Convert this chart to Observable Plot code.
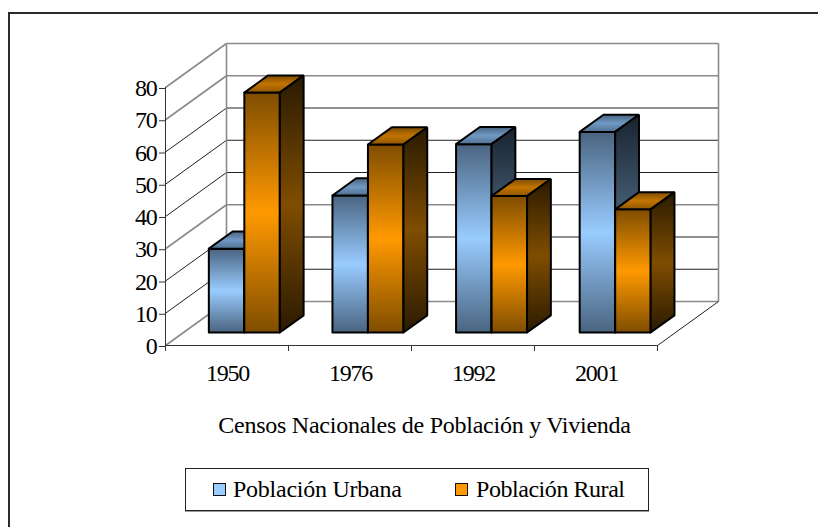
<!DOCTYPE html>
<html>
<head>
<meta charset="utf-8">
<script src="https://cdn.jsdelivr.net/npm/d3@7"></script>
<script src="https://cdn.jsdelivr.net/npm/@observablehq/plot@0.6"></script>
<style>
  html, body { margin: 0; padding: 0; background: #fff; overflow: hidden; }
  #page { position: relative; width: 818px; height: 527px; font-family: "Liberation Serif", serif; color: #000; }
  #page svg text { letter-spacing: -0.25px; }
  #page svg g[aria-label="y-axis tick label"] text, #page svg g[aria-label="x-axis tick label"] text { letter-spacing: -1.3px; }
  #frame { position: absolute; left: 8px; top: 12px; right: -4px; bottom: -4px; border: 2px solid #2b2b2b; box-sizing: border-box; }
  #legend { position: absolute; left: 185px; top: 468px; width: 464px; height: 43px; box-sizing: border-box; border: 1px solid #222; box-shadow: 0 1px 0 #999; background: #fff; }
  .sw { position: absolute; top: 14px; width: 13px; height: 13px; box-sizing: border-box; border: 1.5px solid #111; }
  .lb { position: absolute; top: 6px; font-size: 24px; line-height: 28px; white-space: nowrap; }
</style>
</head>
<body>
<div id="page">
  <div id="frame"></div>
  <div id="chart"></div>
  <div id="legend"></div>
</div>
<script>
const years = ["1950", "1976", "1992", "2001"];
const urbana = [26.0, 42.5, 58.4, 62.2];
const rural = [74.4, 58.3, 42.3, 38.2];
const seriesNames = ["Población Urbana", "Población Rural"];
const gridValues = [0, 10, 20, 30, 40, 50, 60, 70, 80];
const wideGrid = [0, 30, 70, 80];
const title = "Censos Nacionales de Población y Vivienda";

// oblique projection, expressed in scale units (category, percent)
const depthX = 0.496, depthY = 13.64;
const px = (x, z) => x + z * depthX;
const py = (y, z) => y + z * depthY;
const barOffset = 0.206, barStep = 1.005, barWidth = 0.2886, z0 = 0.295, z1 = 0.685;

const gradients = {
  uFront: ["#4a6480", "#99ccff", "#4a6480"],
  uTop:   ["#4a6480", "#7099c4", "#50708f"],
  uSide:  ["#18222e", "#4c6680", "#18222e"],
  rFront: ["#7f4d00", "#ff9900", "#7f4d00"],
  rTop:   ["#7f4d00", "#c27400", "#8f5600"],
  rSide:  ["#2a1a00", "#7f4d00", "#2a1a00"]
};

function defs() {
  const d = document.createElementNS("http://www.w3.org/2000/svg", "defs");
  d.innerHTML = Object.entries(gradients).map(([id, c]) =>
    `<linearGradient id="${id}" x1="0" y1="0" x2="0" y2="1">
       <stop offset="0" stop-color="${c[0]}"/><stop offset="0.5" stop-color="${c[1]}"/><stop offset="1" stop-color="${c[2]}"/>
     </linearGradient>`).join("");
  return d;
}

function poly(points, fill) {
  const closed = [...points, points[0]].map(([x, y]) => ({x, y}));
  return Plot.line(closed, {x: "x", y: "y", fill, stroke: "#000", strokeWidth: 2, strokeLinejoin: "miter"});
}

function bar(x0, value, prefix) {
  const x1 = x0 + barWidth;
  return [
    poly([[px(x0, z0), py(0, z0)], [px(x1, z0), py(0, z0)], [px(x1, z0), py(value, z0)], [px(x0, z0), py(value, z0)]], `url(#${prefix}Front)`),
    poly([[px(x0, z0), py(value, z0)], [px(x1, z0), py(value, z0)], [px(x1, z1), py(value, z1)], [px(x0, z1), py(value, z1)]], `url(#${prefix}Top)`),
    poly([[px(x1, z0), py(0, z0)], [px(x1, z1), py(0, z1)], [px(x1, z1), py(value, z1)], [px(x1, z0), py(value, z0)]], `url(#${prefix}Side)`)
  ];
}

const gridColor = v => wideGrid.includes(v) ? "#8a8a8a" : "#222";
const gridWidth = v => wideGrid.includes(v) ? 1.6 : 1;
const categoryEdges = d3.range(years.length + 1);

const chart = Plot.plot({
  width: 818,
  height: 527,
  marginLeft: 165,
  marginRight: 161,
  marginTop: 87,
  marginBottom: 182,
  style: {background: "transparent", fontFamily: "Liberation Serif", overflow: "visible"},
  x: {type: "linear", domain: [0, years.length]},
  y: {type: "linear", domain: [0, 80]},
  marks: [
    defs,
    Plot.link(gridValues, {x1: () => px(0, 1), x2: () => px(years.length, 1), y1: v => py(v, 1), y2: v => py(v, 1), stroke: gridColor, strokeWidth: gridWidth}),
    Plot.link(gridValues, {x1: () => px(0, 0), x2: () => px(0, 1), y1: v => py(v, 0), y2: v => py(v, 1), stroke: gridColor, strokeWidth: gridWidth}),
    Plot.link([0, years.length], {x1: c => px(c, 1), x2: c => px(c, 1), y1: () => py(0, 1), y2: () => py(80, 1), stroke: "#8a8a8a", strokeWidth: 1.6}),
    Plot.link([years.length], {x1: c => px(c, 0), x2: c => px(c, 1), y1: () => py(0, 0), y2: () => py(0, 1), stroke: "#222", strokeWidth: 1}),
    Plot.ruleX([0], {y1: 0, y2: 80, stroke: "#333"}),
    Plot.ruleY([0], {x1: 0, x2: years.length, stroke: "#333", strokeWidth: 1.2}),
    Plot.axisY({ticks: gridValues, tickSize: 6, tickPadding: 3, fontSize: 24, label: null, stroke: "#333", color: "#000", dy: 1}),
    Plot.axisX({ticks: categoryEdges, tickSize: 6, tickFormat: () => "", label: null, stroke: "#333"}),
    Plot.axisX({ticks: years.map((_, i) => i + 0.5), tickSize: 0, tickPadding: 18, fontSize: 24, label: null,
      tickFormat: v => years[v - 0.5], dx: 0.5}),
    years.map((_, i) => [
      bar(i * barStep + barOffset, urbana[i], "u"),
      bar(i * barStep + barOffset + barWidth, rural[i], "r")
    ]),
    Plot.text([title], {text: d => d, frameAnchor: "bottom", dx: 13, dy: 87, fontSize: 24, lineAnchor: "bottom", fill: "#000"})
  ]
});
document.getElementById("chart").appendChild(chart);

const legend = document.getElementById("legend");
const entries = [
  {name: seriesNames[0], fill: "#99ccff", sw: 27, lb: 47, ls: "-0.25px"},
  {name: seriesNames[1], fill: "#ff9900", sw: 269, lb: 290, ls: "-0.45px"}
];
entries.forEach(e => {
  const s = document.createElement("div");
  s.className = "sw"; s.style.left = e.sw + "px"; s.style.background = e.fill;
  const t = document.createElement("div");
  t.className = "lb"; t.style.left = e.lb + "px"; t.style.letterSpacing = e.ls; t.textContent = e.name;
  legend.append(s, t);
});
</script>
</body>
</html>
